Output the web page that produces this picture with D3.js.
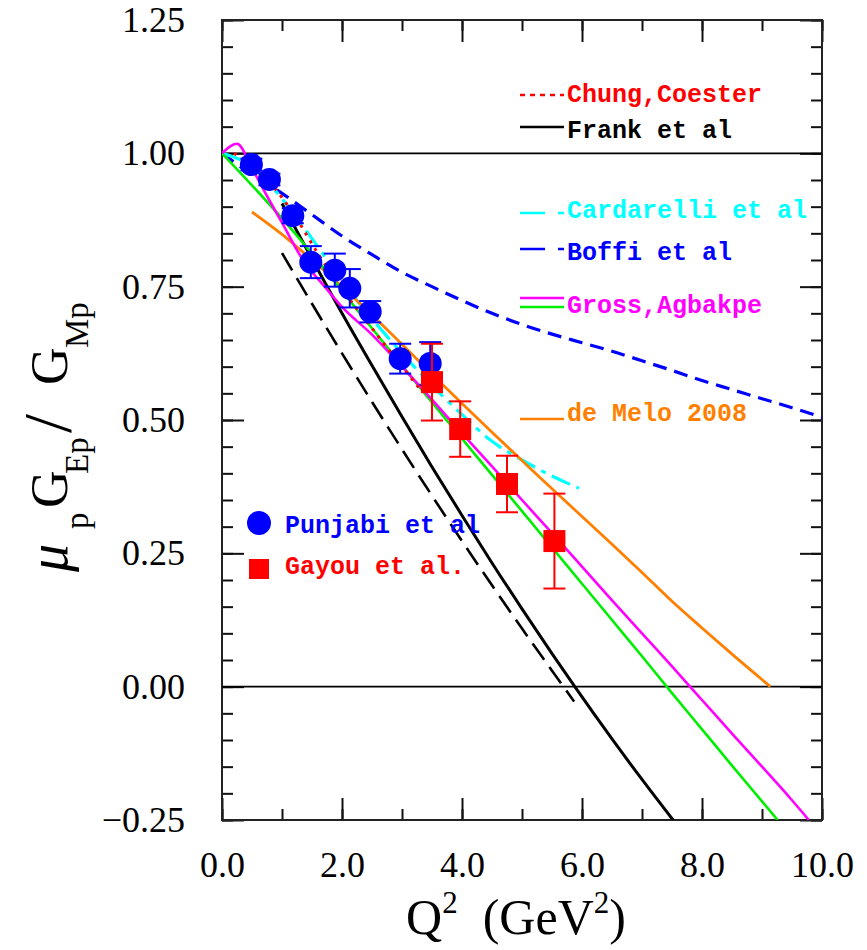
<!DOCTYPE html>
<html>
<head>
<meta charset="utf-8">
<script src="https://cdnjs.cloudflare.com/ajax/libs/d3/7.8.5/d3.min.js"></script>
<style>
  body { margin: 0; background: #fff; }
  svg { display: block; }
</style>
</head>
<body>
<div id="chart"></div>
<script>
// ---- data ----
const yTicks = [-0.25, 0.00, 0.25, 0.50, 0.75, 1.00, 1.25];
const xTicks = [0, 2, 4, 6, 8, 10];

// Punjabi et al (Q2, ratio, error)
const punjabiQ2 = [0.49, 0.79, 1.18, 1.48, 1.88, 2.13, 2.47, 2.97, 3.47];
const punjabiR  = [0.979, 0.951, 0.883, 0.796, 0.781, 0.747, 0.703, 0.615, 0.606];
const punjabiE  = [0.011, 0.011, 0.014, 0.030, 0.031, 0.036, 0.020, 0.028, 0.040];

// Gayou et al.
const gayouQ2 = [3.50, 3.97, 4.75, 5.54];
const gayouR  = [0.571, 0.483, 0.380, 0.273];
const gayouE  = [0.072, 0.052, 0.053, 0.089];

// model curves [Q2, ratio]
const chungCoester = [[0.2,1.0],[0.5,0.978],[0.8,0.945],[1.2,0.885],[1.6,0.812],[2.0,0.746],[2.5,0.672],[3.0,0.6],[3.3,0.558]];
const frank = [[1.0,0.906],[1.5,0.802],[2.0,0.70],[2.5,0.602],[3.0,0.506],[3.5,0.412],[4.0,0.321],[4.5,0.232],[5.0,0.146],[5.5,0.062],[5.88,0.0],[6.5,-0.098],[7.0,-0.174],[7.6,-0.262]];
const frankDashed = [[1.0,0.813],[1.5,0.718],[2.0,0.625],[2.5,0.534],[3.0,0.445],[3.5,0.358],[4.0,0.273],[4.5,0.19],[5.0,0.109],[5.5,0.03],[5.87,-0.028]];
const cardarelli = [[0,1.0],[0.5,0.975],[1.0,0.915],[1.5,0.84],[2.0,0.76],[2.5,0.69],[3.0,0.625],[3.5,0.565],[4.0,0.51],[4.5,0.46],[5.0,0.425],[5.5,0.395],[5.95,0.372]];
const boffi = [[0,1.0],[0.5,0.96],[1.0,0.925],[1.5,0.885],[2.0,0.845],[2.5,0.81],[3.0,0.777],[3.5,0.75],[4.0,0.724],[4.5,0.7],[5.0,0.679],[5.5,0.661],[6.0,0.645],[6.5,0.629],[7.0,0.611],[7.5,0.593],[8.0,0.574],[8.5,0.557],[9.0,0.54],[9.5,0.523],[10.0,0.505]];
const grossMagenta = [[0,1.0],[0.25,1.018],[0.5,0.972],[0.75,0.92],[1.0,0.87],[1.35,0.80],[1.75,0.745],[2.0,0.712],[2.5,0.66],[3.0,0.6],[3.5,0.538],[4.0,0.475],[4.5,0.413],[5.0,0.35],[5.5,0.288],[6.0,0.225],[6.5,0.162],[7.0,0.1],[7.5,0.038],[8.0,-0.025],[8.5,-0.088],[9.0,-0.15],[9.5,-0.213],[9.78,-0.25]];
const grossGreen = [[0,1.0],[0.5,0.94],[1.0,0.878],[1.5,0.812],[2.0,0.742],[2.5,0.672],[3.0,0.602],[3.5,0.533],[4.0,0.465],[4.5,0.397],[5.0,0.329],[5.5,0.261],[6.0,0.193],[6.5,0.125],[7.0,0.057],[7.5,-0.012],[8.0,-0.08],[8.5,-0.148],[9.0,-0.215],[9.26,-0.25]];
const deMelo = [[0.5,0.89],[1.0,0.848],[1.5,0.80],[2.0,0.75],[2.5,0.697],[3.0,0.642],[3.5,0.586],[4.0,0.531],[4.5,0.477],[5.0,0.424],[5.5,0.371],[6.0,0.319],[6.5,0.267],[7.0,0.214],[7.5,0.16],[8.0,0.11],[8.5,0.061],[9.14,0.0]];

const width = 867, height = 950;
const svg = d3.select("#chart").append("svg")
  .attr("width", width)
  .attr("height", height);

const x = d3.scaleLinear().domain([0, 10]).range([222, 822]);
const y = d3.scaleLinear().domain([-0.25, 1.25]).range([820, 20]);

svg.append("clipPath").attr("id", "plot")
  .append("rect")
  .attr("x", x(0)).attr("y", y(1.25))
  .attr("width", x(10) - x(0)).attr("height", y(-0.25) - y(1.25));

// ---- axes, ticks inward on all sides ----
const tickFont = "'Liberation Serif', 'Times New Roman', serif";

function styleAxis(g) {
  g.select(".domain").remove();
  g.selectAll(".tick line").attr("stroke", "#111").attr("stroke-width", 2);
  g.selectAll("text").attr("font-family", tickFont).attr("font-size", 36).attr("fill", "#000");
}

const yMinor = d3.range(-0.25, 1.2501, 0.05);
const xMinor = d3.range(0, 10.01, 1);

svg.append("g").attr("transform", `translate(${x(0)},0)`)
  .call(d3.axisLeft(y).tickValues(yMinor).tickSize(-11).tickFormat(""))
  .call(styleAxis);
svg.append("g").attr("transform", `translate(${x(0)},0)`)
  .call(d3.axisLeft(y).tickValues(yTicks).tickSize(-22).tickPadding(37).tickFormat(d3.format(".2f")))
  .call(styleAxis);
svg.append("g").attr("transform", `translate(${x(10)},0)`)
  .call(d3.axisRight(y).tickValues(yMinor).tickSize(-11).tickFormat(""))
  .call(styleAxis);
svg.append("g").attr("transform", `translate(${x(10)},0)`)
  .call(d3.axisRight(y).tickValues(yTicks).tickSize(-22).tickFormat(""))
  .call(styleAxis);

svg.append("g").attr("transform", `translate(0,${y(-0.25)})`)
  .call(d3.axisBottom(x).tickValues(xMinor).tickSize(-11).tickFormat(""))
  .call(styleAxis);
svg.append("g").attr("transform", `translate(0,${y(-0.25)})`)
  .call(d3.axisBottom(x).tickValues(xTicks).tickSize(-22).tickPadding(31).tickFormat(d3.format(".1f")))
  .call(styleAxis);
svg.append("g").attr("transform", `translate(0,${y(1.25)})`)
  .call(d3.axisTop(x).tickValues(xMinor).tickSize(-11).tickFormat(""))
  .call(styleAxis);
svg.append("g").attr("transform", `translate(0,${y(1.25)})`)
  .call(d3.axisTop(x).tickValues(xTicks).tickSize(-22).tickFormat(""))
  .call(styleAxis);

// frame
svg.append("rect")
  .attr("x", x(0)).attr("y", y(1.25))
  .attr("width", x(10) - x(0)).attr("height", y(-0.25) - y(1.25))
  .attr("fill", "none").attr("stroke", "#222").attr("stroke-width", 2);

// reference lines at 1 and 0
[1, 0].forEach(v => {
  svg.append("line")
    .attr("x1", x(0)).attr("x2", x(10))
    .attr("y1", y(v)).attr("y2", y(v))
    .attr("stroke", "#000").attr("stroke-width", 1.6);
});

// ---- model curves ----
const line = d3.line()
  .x(d => x(d[0]))
  .y(d => y(d[1]))
  .curve(d3.curveMonotoneX);

const curves = [
  { data: boffi,        color: "#0000ff", dash: "14,8",      w: 3.2 },
  { data: cardarelli,   color: "#00ffff", dash: "20,7,5,7",  w: 3.2 },
  { data: frankDashed,  color: "#000",    dash: "20,9",      w: 2.6 },
  { data: frank,        color: "#000",    dash: null,        w: 3 },
  { data: deMelo,       color: "#ff7f00", dash: null,        w: 2.8 },
  { data: grossGreen,   color: "#00ee00", dash: null,        w: 2.6 },
  { data: grossMagenta, color: "#ff00ff", dash: null,        w: 2.6 },
  { data: chungCoester, color: "#ff0000", dash: "3,6",       w: 3 }
];

const curveG = svg.append("g").attr("clip-path", "url(#plot)");

// ---- data points (drawn under the thin curves, like the original) ----
const ptsG = svg.append("g").attr("clip-path", "url(#plot)");
const capW = 11;

const punjabi = punjabiQ2.map((q, i) => ({ q, r: punjabiR[i], e: punjabiE[i] }));
const gayou = gayouQ2.map((q, i) => ({ q, r: gayouR[i], e: gayouE[i] }));

function errorBars(g, data, color) {
  const eb = g.append("g").attr("stroke", color).attr("stroke-width", 2);
  data.forEach(d => {
    eb.append("line").attr("x1", x(d.q)).attr("x2", x(d.q)).attr("y1", y(d.r - d.e)).attr("y2", y(d.r + d.e));
    eb.append("line").attr("x1", x(d.q) - capW).attr("x2", x(d.q) + capW).attr("y1", y(d.r - d.e)).attr("y2", y(d.r - d.e));
    eb.append("line").attr("x1", x(d.q) - capW).attr("x2", x(d.q) + capW).attr("y1", y(d.r + d.e)).attr("y2", y(d.r + d.e));
  });
}

ptsG.selectAll("circle.pj").data(punjabi).enter().append("circle")
  .attr("cx", d => x(d.q)).attr("cy", d => y(d.r)).attr("r", 11.5)
  .attr("fill", "#0000ff");
errorBars(ptsG, punjabi, "#0000ff");

ptsG.selectAll("rect.gy").data(gayou).enter().append("rect")
  .attr("x", d => x(d.q) - 11).attr("y", d => y(d.r) - 11)
  .attr("width", 22).attr("height", 22)
  .attr("fill", "#ff0000");
errorBars(ptsG, gayou, "#ff0000");

curves.forEach(c => {
  curveG.append("path")
    .datum(c.data)
    .attr("d", line)
    .attr("fill", "none")
    .attr("stroke", c.color)
    .attr("stroke-width", c.w)
    .attr("stroke-dasharray", c.dash);
});

// ---- legends ----
const legFont = "'Liberation Mono', 'DejaVu Sans Mono', monospace";
const legSize = 25;
const legend = [
  { label: "Chung,Coester",    color: "#ff0000", yText: 102, lines: [{ y: 95,  color: "#ff0000", dash: "5,5" }] },
  { label: "Frank et al",      color: "#000",    yText: 138, lines: [{ y: 127, color: "#000",    dash: null }] },
  { label: "Cardarelli et al", color: "#00ffff", yText: 218, lines: [{ y: 213, color: "#00ffff", dash: "25,13,8,40" }] },
  { label: "Boffi et al",      color: "#0000ff", yText: 260, lines: [{ y: 249, color: "#0000ff", dash: "25,13,8,40" }] },
  { label: "Gross,Agbakpe",    color: "#ff00ff", yText: 313, lines: [{ y: 298, color: "#ff00ff", dash: null }, { y: 307, color: "#00ee00", dash: null }] },
  { label: "de Melo 2008",     color: "#ff7f00", yText: 421, lines: [{ y: 419, color: "#ff7f00", dash: null }] }
];

legend.forEach(l => {
  l.lines.forEach(s => {
    svg.append("line")
      .attr("x1", 520).attr("x2", 564).attr("y1", s.y).attr("y2", s.y)
      .attr("stroke", s.color).attr("stroke-width", 2.4)
      .attr("stroke-dasharray", s.dash);
  });
  svg.append("text")
    .attr("x", 567).attr("y", l.yText)
    .attr("font-family", legFont).attr("font-weight", "bold").attr("font-size", legSize)
    .attr("fill", l.color)
    .text(l.label);
});

svg.append("circle").attr("cx", 259).attr("cy", 523).attr("r", 12).attr("fill", "#0000ff");
svg.append("text").attr("x", 285).attr("y", 533)
  .attr("font-family", legFont).attr("font-weight", "bold").attr("font-size", legSize)
  .attr("fill", "#0000ff").text("Punjabi et al");
svg.append("rect").attr("x", 249).attr("y", 559).attr("width", 20).attr("height", 20).attr("fill", "#ff0000");
svg.append("text").attr("x", 285).attr("y", 574)
  .attr("font-family", legFont).attr("font-weight", "bold").attr("font-size", legSize)
  .attr("fill", "#ff0000").text("Gayou et al.");

// ---- axis titles ----
const xt = svg.append("text")
  .attr("x", 516).attr("y", 934)
  .attr("text-anchor", "middle")
  .attr("font-family", tickFont).attr("font-size", 50).attr("fill", "#000");
xt.append("tspan").text("Q");
xt.append("tspan").attr("font-size", 31).attr("dy", -21).text("2");
xt.append("tspan").attr("dy", 21).text("\u00a0\u00a0(GeV");
xt.append("tspan").attr("font-size", 31).attr("dy", -21).text("2");
xt.append("tspan").attr("dy", 21).text(")");

const yt = svg.append("g").attr("transform", "rotate(-90)")
  .attr("font-family", tickFont).attr("fill", "#000");
const pieces = [
  { t: "\u03bc", at: 572, base: 67, size: 56, italic: true },
  { t: "p",      at: 529, base: 88, size: 33 },
  { t: "G",      at: 508, base: 67, size: 52 },
  { t: "Ep",     at: 474, base: 88, size: 33 },
  { t: "/",      at: 433, base: 70, size: 68 },
  { t: "G",      at: 385, base: 67, size: 52 },
  { t: "Mp",     at: 348, base: 88, size: 33 }
];
pieces.forEach(p => {
  yt.append("text")
    .attr("x", -p.at).attr("y", p.base)
    .attr("font-size", p.size)
    .attr("font-style", p.italic ? "italic" : null)
    .text(p.t);
});
</script>
</body>
</html>
